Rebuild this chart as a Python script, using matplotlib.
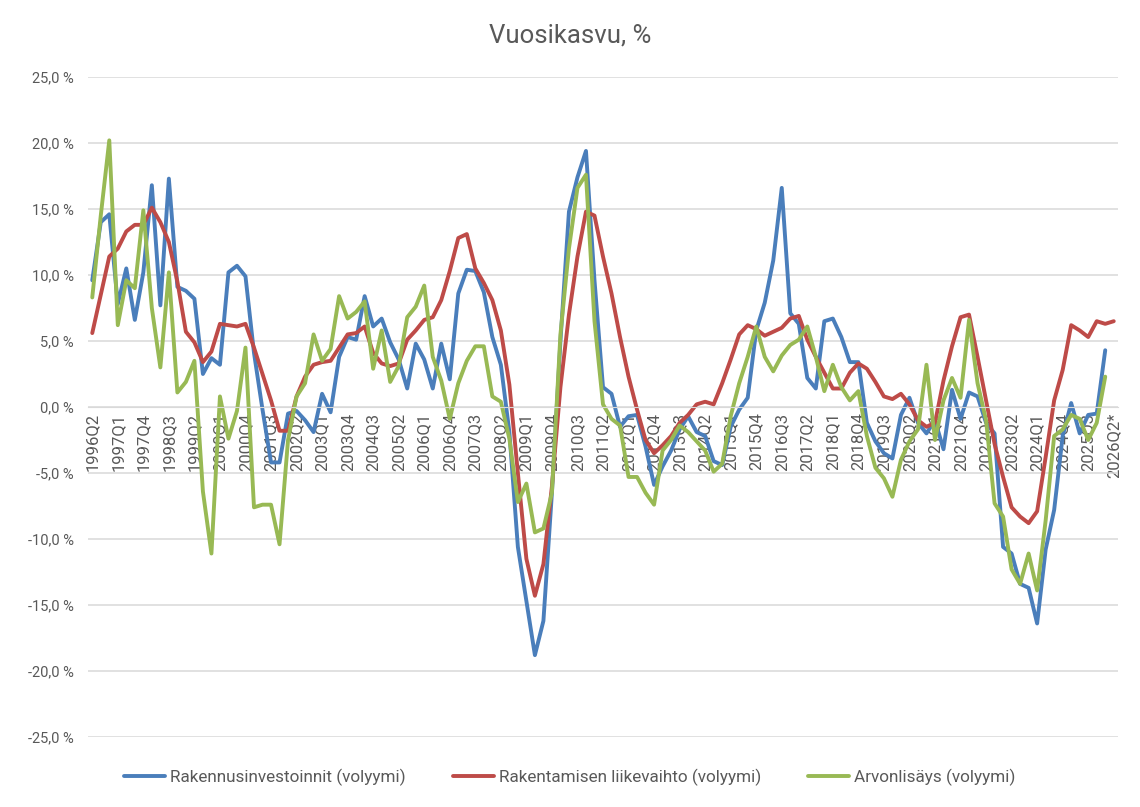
import numpy as np
import pandas as pd
import matplotlib
matplotlib.use("Agg")
import matplotlib.pyplot as plt
from matplotlib.ticker import FuncFormatter

plt.rcParams["font.family"] = ["Roboto", "DejaVu Sans"]

# quarterly categories 1996Q2 .. 2026Q2 (last one is a forecast)
quarters = [str(p) for p in pd.period_range("1996Q2", "2026Q2", freq="Q")]
quarters[-1] += "*"

# Rakennusinvestoinnit (volyymi), ends at 2026Q1
investments = [
    9.6, 14.0, 14.6, 7.8, 10.5, 6.6, 10.2, 16.8, 7.7, 17.3,
    9.1, 8.8, 8.2, 2.5, 3.7, 3.2, 10.2, 10.7, 9.9, 4.1,
    -0.2, -4.2, -4.2, -0.5, -0.3, -1.0, -1.9, 1.0, -0.4, 3.8,
    5.3, 5.1, 8.4, 6.1, 6.7, 4.9, 3.6, 1.4, 4.8, 3.6,
    1.4, 4.8, 2.1, 8.6, 10.4, 10.3, 8.7, 5.3, 3.2, -1.9,
    -10.6, -14.7, -18.8, -16.2, -6.5, 5.0, 14.8, 17.4, 19.4, 9.6,
    1.5, 1.0, -1.5, -0.7, -0.6, -3.0, -5.9, -4.5, -3.3, -1.7,
    -0.7, -1.9, -2.2, -4.1, -4.4, -1.5, -0.2, 0.7, 5.8, 7.9,
    11.1, 16.6, 7.1, 6.3, 2.2, 1.4, 6.5, 6.7, 5.3, 3.4,
    3.4, -1.2, -2.6, -3.5, -3.9, -0.6, 0.7, -1.2, -2.0, -1.0,
    -3.2, 1.3, -0.9, 1.1, 0.8, -1.2, -2.0, -10.6, -11.1, -13.4,
    -13.7, -16.4, -10.8, -7.8, -2.2, 0.3, -2.0, -0.6, -0.5, 4.3,
]

# Rakentamisen liikevaihto (volyymi), ends at 2026Q2
turnover = [
    5.6, 8.5, 11.4, 12.0, 13.3, 13.8, 13.8, 15.1, 14.0, 12.5,
    9.5, 5.7, 4.9, 3.4, 4.2, 6.3, 6.2, 6.1, 6.3, 4.5,
    2.5, 0.5, -1.8, -1.8, 0.8, 2.3, 3.2, 3.4, 3.5, 4.5,
    5.5, 5.6, 6.1, 4.1, 3.3, 3.1, 3.3, 5.1, 5.8, 6.6,
    6.8, 8.1, 10.3, 12.8, 13.1, 10.5, 9.4, 8.1, 5.8, 1.7,
    -5.0, -11.5, -14.3, -11.9, -6.0, 1.5, 7.0, 11.4, 14.8, 14.5,
    11.4, 8.6, 5.3, 2.3, -0.2, -2.5, -3.5, -2.9, -2.2, -1.2,
    -0.6, 0.2, 0.4, 0.2, 1.8, 3.6, 5.5, 6.2, 5.9, 5.4,
    5.7, 6.0, 6.7, 6.9, 5.1, 3.8, 2.6, 1.4, 1.4, 2.6,
    3.3, 2.9, 1.9, 0.8, 0.6, 1.0, 0.2, -1.0, -1.5, -1.2,
    2.0, 4.6, 6.8, 7.0, 3.8, 0.5, -2.8, -5.3, -7.6, -8.3,
    -8.8, -7.9, -3.8, 0.5, 2.8, 6.2, 5.8, 5.3, 6.5, 6.3,
    6.5,
]

# Arvonlisäys (volyymi), ends at 2026Q1
value_added = [
    8.3, 14.5, 20.2, 6.2, 9.6, 9.0, 14.9, 7.5, 3.0, 10.2,
    1.1, 1.9, 3.5, -6.4, -11.1, 0.8, -2.4, -0.3, 4.5, -7.6,
    -7.4, -7.4, -10.4, -2.5, 0.8, 1.8, 5.5, 3.5, 4.4, 8.4,
    6.7, 7.2, 8.0, 2.9, 5.8, 1.9, 3.1, 6.8, 7.6, 9.2,
    3.8, 2.0, -0.9, 1.8, 3.5, 4.6, 4.6, 0.8, 0.4, -2.4,
    -7.2, -5.8, -9.5, -9.2, -6.5, 5.5, 12.0, 16.6, 17.6, 6.5,
    0.2, -0.9, -1.4, -5.3, -5.3, -6.5, -7.4, -3.3, -2.5, -1.4,
    -1.9, -2.6, -3.3, -4.9, -4.3, -0.7, 1.8, 3.8, 6.1, 3.8,
    2.7, 3.9, 4.7, 5.1, 6.1, 3.8, 1.2, 3.2, 1.5, 0.5,
    1.2, -2.2, -4.6, -5.4, -6.8, -4.0, -2.6, -1.7, 3.2, -2.5,
    0.5, 2.2, 0.7, 6.6, 1.8, -1.0, -7.3, -8.3, -12.3, -13.4,
    -11.1, -13.9, -8.6, -2.2, -1.7, -0.6, -0.9, -2.5, -1.2, 2.3,
]

series = [
    ("Rakennusinvestoinnit (volyymi)", investments, "#4A7EBB"),
    ("Rakentamisen liikevaihto (volyymi)", turnover, "#BE4B48"),
    ("Arvonlisäys (volyymi)", value_added, "#98B954"),
]
TEXT = "#595959"

fig = plt.figure(figsize=(11.4, 8.07), dpi=100)
ax = fig.add_axes([88 / 1140, 70 / 807, 1030 / 1140, 660 / 807])

for name, vals, col in series:
    ax.plot(range(len(vals)), vals, color=col, lw=2.8, label=name,
            solid_joinstyle="round", solid_capstyle="round")

ax.set_xlim(-0.5, len(quarters) - 0.5)
ax.set_ylim(-25, 25)
ax.set_yticks(np.arange(-25, 26, 5))
ax.yaxis.set_major_formatter(
    FuncFormatter(lambda v, p: f"{v:.1f}".replace(".", ",") + " %"))
ax.grid(axis="y", color="#D9D9D9", lw=1.1)
ax.set_axisbelow(True)

ax.set_xticks(range(0, len(quarters), 3))
ax.set_xticklabels(quarters[::3])

for s in ("top", "right", "left"):
    ax.spines[s].set_visible(False)
ax.spines["bottom"].set_position(("data", 0))
ax.spines["bottom"].set_color("#D9D9D9")

ax.tick_params(axis="x", length=0, pad=4, labelrotation=90,
               labelsize=12, colors=TEXT)
ax.tick_params(axis="y", length=0, pad=10, labelsize=10.5, colors=TEXT)

fig.text(0.5, 1 - 35 / 807, "Vuosikasvu, %", ha="center", va="center",
         fontsize=18.5, color=TEXT)

fig.legend(loc="center", bbox_to_anchor=(0.5, 1 - 777 / 807), ncol=3,
           frameon=False, fontsize=12.3, handlelength=2.4,
           handletextpad=0.3, columnspacing=2.75, labelcolor=TEXT)

fig.savefig("out.png", dpi=100)
